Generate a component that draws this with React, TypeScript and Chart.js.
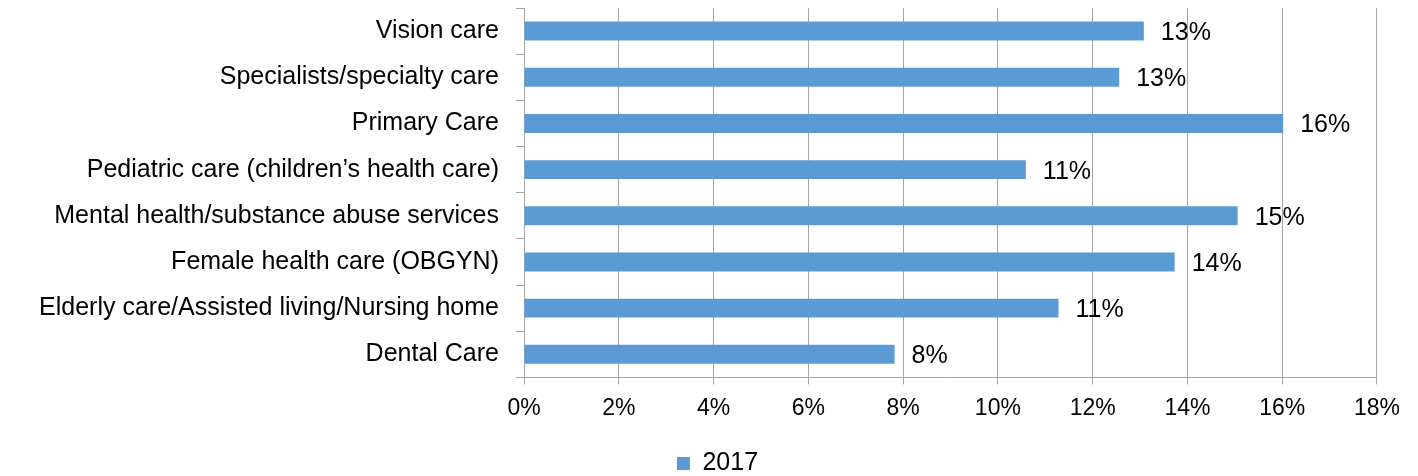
import React, { useEffect, useRef } from "react";
import { Chart, registerables } from "chart.js";

Chart.register(...registerables);

const categories = [
  "Vision care",
  "Specialists/specialty care",
  "Primary Care",
  "Pediatric care (children’s health care)",
  "Mental health/substance abuse services",
  "Female health care (OBGYN)",
  "Elderly care/Assisted living/Nursing home",
  "Dental Care",
];
const seriesName = "2017";
const values2017 = [13.08, 12.56, 16.02, 10.59, 15.06, 13.73, 11.28, 7.82];
const xTickMin = 0;
const xTickMax = 18;
const xTickStep = 2;

const FONT = "'Liberation Sans', Arial, Helvetica, sans-serif";
const BAR_COLOR = "#5B9BD5";
const GRID = "#a6a6a6";

const valueLabels = {
  id: "valueLabels",
  afterDatasetsDraw(chart: any) {
    const ctx = chart.ctx;
    const meta = chart.getDatasetMeta(0);
    const data = chart.data.datasets[0].data as number[];
    ctx.save();
    ctx.font = `25px ${FONT}`;
    ctx.fillStyle = "#000";
    ctx.textAlign = "left";
    ctx.textBaseline = "middle";
    meta.data.forEach((bar: any, i: number) => {
      ctx.fillText(`${Math.round(data[i])}%`, bar.x + 17, bar.y + 2);
    });
    ctx.restore();
  },
};

const legendShift = {
  id: "legendShift",
  afterLayout(chart: any) {
    const lg = chart.legend;
    if (lg) {
      lg.left += 25;
      lg.right += 25;
    }
  },
};

export default function App() {
  const ref = useRef<HTMLCanvasElement | null>(null);
  useEffect(() => {
    if (!ref.current) return;
    const chart = new Chart(ref.current, {
      type: "bar",
      data: {
        labels: categories,
        datasets: [
          {
            label: seriesName,
            data: values2017,
            backgroundColor: BAR_COLOR,
            barPercentage: 0.41,
            categoryPercentage: 1,
          },
        ],
      },
      options: {
        indexAxis: "y",
        animation: false,
        responsive: true,
        maintainAspectRatio: false,
        layout: { padding: { top: 0, left: 0, right: 33, bottom: 0 } },
        plugins: {
          tooltip: { enabled: false },
          legend: {
            position: "bottom",
            labels: {
              boxWidth: 13,
              boxHeight: 13,
              padding: 5,
              color: "#000",
              font: { size: 25, family: FONT },
            },
          },
        },
        scales: {
          x: {
            min: xTickMin,
            max: xTickMax,
            ticks: {
              stepSize: xTickStep,
              color: "#000",
              padding: 10,
              font: { size: 23, family: FONT },
              callback: (v: any) => `${v}%`,
              maxRotation: 0,
            },
            grid: { color: GRID, lineWidth: 1, tickLength: 7, drawOnChartArea: true },
            border: { color: GRID, width: 1 },
            afterFit: (scale: any) => {
              scale.height += 14;
            },
          },
          y: {
            ticks: {
              color: "#000",
              padding: 17,
              font: { size: 25, family: FONT },
              autoSkip: false,
            },
            grid: { color: GRID, lineWidth: 1, tickLength: 8, drawOnChartArea: false, offset: true },
            border: { color: GRID, width: 1 },
            afterFit: (scale: any) => {
              scale.width = 516;
              scale.paddingTop = 0;
              scale.paddingBottom = 0;
            },
          },
        },
      },
      plugins: [valueLabels, legendShift],
    });
    return () => chart.destroy();
  }, []);
  return (
    <div style={{ width: "1402px", height: "478px", position: "relative" }}>
      <canvas ref={ref} />
    </div>
  );
}
